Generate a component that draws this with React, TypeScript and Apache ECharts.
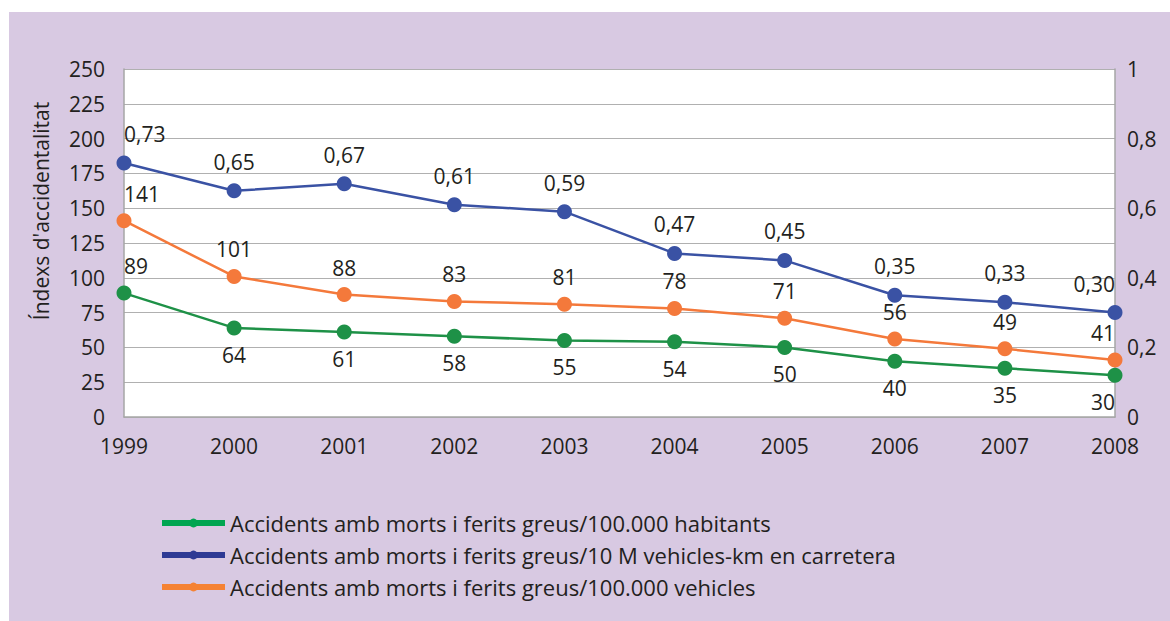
import React, { useEffect, useRef } from "react";
import * as echarts from "echarts";

const years = ["1999", "2000", "2001", "2002", "2003", "2004", "2005", "2006", "2007", "2008"];
const habitants = [89, 64, 61, 58, 55, 54, 50, 40, 35, 30];
const vehiclesKm = [0.73, 0.65, 0.67, 0.61, 0.59, 0.47, 0.45, 0.35, 0.33, 0.3];
const vehicles = [141, 101, 88, 83, 81, 78, 71, 56, 49, 41];
const seriesNames = [
  "Accidents amb morts i ferits greus/100.000 habitants",
  "Accidents amb morts i ferits greus/10 M vehicles-km en carretera",
  "Accidents amb morts i ferits greus/100.000 vehicles",
];
const axisName = "Índexs d'accidentalitat";

const FONT = "'Open Sans', 'Noto Sans', sans-serif";
const TXT = "#231f20";
const GREEN = "#1e9147";
const BLUE = "#3a52a4";
const ORANGE = "#f4793b";
const FS = 21;

function fmtComma(v: number, digits: number) {
  return v.toFixed(digits).replace(".", ",");
}

function buildData(values: number[], pos: "top" | "bottom", firstPos: "top" | "bottom") {
  const n = values.length;
  return values.map((v, i) => {
    const label: any = { position: i === 0 ? firstPos : pos };
    if (i === 0) label.align = "left";
    if (i === n - 1) label.align = "right";
    return { value: v, label };
  });
}

export default function App() {
  const ref = useRef<HTMLDivElement>(null);
  useEffect(() => {
    if (!ref.current) return;
    const chart = echarts.init(ref.current, null, { renderer: "svg" });
    const labelBase = {
      show: true,
      fontFamily: FONT,
      fontSize: FS,
      color: TXT,
      distance: 9,
    };
    chart.setOption({
      animation: false,
      backgroundColor: "#ffffff",
      textStyle: { fontFamily: FONT },
      graphic: [
        {
          type: "rect",
          z: -10,
          silent: true,
          shape: { x: 9, y: 12, width: 1161, height: 609 },
          style: { fill: "#d8c9e2" },
        },
        {
          type: "rect",
          z: -9,
          silent: true,
          shape: { x: 124, y: 69, width: 991, height: 348 },
          style: { fill: "#ffffff" },
        },
        {
          type: "text",
          x: 41,
          y: 211,
          rotation: Math.PI / 2,
          silent: true,
          style: {
            text: axisName,
            fontFamily: FONT,
            fontSize: 21,
            fill: TXT,
            align: "center",
            verticalAlign: "middle",
          },
        },
      ],
      grid: { left: 124, right: 55, top: 69, bottom: 204, containLabel: false },
      legend: {
        orient: "vertical",
        left: 154,
        top: 507,
        itemWidth: 63,
        itemHeight: 11,
        itemGap: 10,
        textStyle: { fontFamily: FONT, fontSize: 22, color: TXT },
        data: [
          { name: seriesNames[0], itemStyle: { color: "#00a551" }, lineStyle: { color: "#00a551", width: 6 } },
          { name: seriesNames[1], itemStyle: { color: "#2e3a94" }, lineStyle: { color: "#2e3a94", width: 6 } },
          { name: seriesNames[2], itemStyle: { color: "#f58233" }, lineStyle: { color: "#f58233", width: 6 } },
        ],
      },
      xAxis: {
        type: "category",
        data: years,
        boundaryGap: false,
        axisLine: { show: true, lineStyle: { color: "#a6a6a6", width: 1.5 } },
        axisTick: { show: false },
        axisLabel: { fontFamily: FONT, fontSize: FS, color: TXT, margin: 18 },
        splitLine: { show: false },
      },
      yAxis: [
        {
          type: "value",
          min: 0,
          max: 250,
          interval: 25,
          axisLine: { show: true, lineStyle: { color: "#a6a6a6", width: 1.5 } },
          axisTick: { show: false },
          axisLabel: { fontFamily: FONT, fontSize: FS, color: TXT, margin: 19 },
          splitLine: { show: true, lineStyle: { color: "#b0b0b0", width: 1.2 } },
        },
        {
          type: "value",
          min: 0,
          max: 1,
          interval: 0.2,
          position: "right",
          axisLine: { show: true, lineStyle: { color: "#a6a6a6", width: 1.5 } },
          axisTick: { show: false },
          axisLabel: {
            fontFamily: FONT,
            fontSize: FS,
            color: TXT,
            margin: 12,
            formatter: (v: number) => (v === 0 || v === 1 ? String(v) : fmtComma(v, 1)),
          },
          splitLine: { show: false },
        },
      ],
      series: [
        {
          name: seriesNames[0],
          type: "line",
          yAxisIndex: 0,
          data: buildData(habitants, "bottom", "top"),
          symbol: "circle",
          symbolSize: 15,
          itemStyle: { color: GREEN },
          lineStyle: { color: GREEN, width: 2.5 },
          label: { ...labelBase },
        },
        {
          name: seriesNames[1],
          type: "line",
          yAxisIndex: 1,
          data: buildData(vehiclesKm, "top", "top"),
          symbol: "circle",
          symbolSize: 15,
          itemStyle: { color: BLUE },
          lineStyle: { color: BLUE, width: 2.5 },
          label: { ...labelBase, distance: 11, formatter: (p: any) => fmtComma(p.value, 2) },
        },
        {
          name: seriesNames[2],
          type: "line",
          yAxisIndex: 0,
          data: buildData(vehicles, "top", "top"),
          symbol: "circle",
          symbolSize: 15,
          itemStyle: { color: ORANGE },
          lineStyle: { color: ORANGE, width: 2.5 },
          label: { ...labelBase },
        },
      ],
    });
    return () => chart.dispose();
  }, []);
  return (
    <div
      ref={ref}
      style={{ position: "fixed", left: 0, top: 0, width: 1170, height: 621 }}
    />
  );
}
